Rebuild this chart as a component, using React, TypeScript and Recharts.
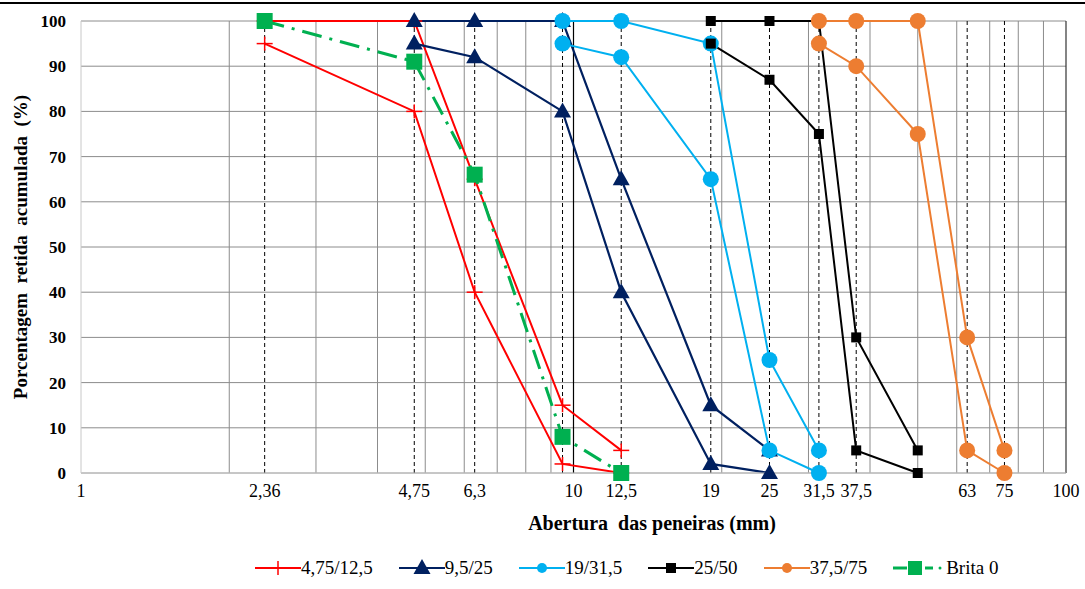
import { LineChart, Line, XAxis, YAxis, CartesianGrid, ReferenceLine } from 'recharts';

// sieve openings (mm) and cumulative retained (%) per grading envelope
const sieves475 = [2.36, 4.75, 6.3, 9.5, 12.5];
const lower475 = [95, 80, 40, 2, 0];
const upper475 = [100, 100, 65, 15, 5];

const sieves95 = [4.75, 6.3, 9.5, 12.5, 19, 25];
const lower95 = [95, 92, 80, 40, 2, 0];
const upper95 = [100, 100, 100, 65, 15, 5];

const sieves19 = [9.5, 12.5, 19, 25, 31.5];
const lower19 = [95, 92, 65, 5, 0];
const upper19 = [100, 100, 95, 25, 5];

const sieves25 = [19, 25, 31.5, 37.5, 50];
const lower25 = [95, 87, 75, 5, 0];
const upper25 = [100, 100, 100, 30, 5];

const sieves375 = [31.5, 37.5, 50, 63, 75];
const lower375 = [95, 90, 75, 5, 0];
const upper375 = [100, 100, 100, 30, 5];

const sievesBrita0 = [2.36, 4.75, 6.3, 9.5, 12.5];
const brita0 = [100, 91, 66, 8, 0];

const xTicks = [1, 2.36, 4.75, 6.3, 10, 12.5, 19, 25, 31.5, 37.5, 63, 75, 100];
const yTicks = [0, 10, 20, 30, 40, 50, 60, 70, 80, 90, 100];
const sieveLines = [2.36, 4.75, 6.3, 9.5, 12.5, 19, 25, 31.5, 37.5, 63, 75];
const minorGrid = [2, 3, 4, 5, 6, 7, 8, 9, 20, 30, 40, 50, 60, 70, 80, 90];

const legendNames = ['4,75/12,5', '9,5/25', '19/31,5', '25/50', '37,5/75', 'Brita 0'];

const RED = '#ff0000';
const NAVY = '#002060';
const CYAN = '#00b0f0';
const BLACK = '#000000';
const ORANGE = '#ed7d31';
const GREEN = '#00b050';
const FONT = '"Liberation Serif", "Times New Roman", serif';

const pts = (xs: number[], ys: number[]) => xs.map((x, i) => ({ x, y: ys[i] }));

type Shape = 'cross' | 'triangle' | 'circle' | 'square' | 'bigsquare';

function marker(shape: Shape, color: string, cx: number, cy: number, key?: any) {
  switch (shape) {
    case 'cross':
      return (
        <g key={key}>
          <line x1={cx - 8} x2={cx + 8} y1={cy} y2={cy} stroke={color} strokeWidth={1.5} />
          <line x1={cx} x2={cx} y1={cy - 7} y2={cy + 7} stroke={color} strokeWidth={1.5} />
        </g>
      );
    case 'triangle':
      return <path key={key} d={`M${cx},${cy - 9} L${cx + 8.5},${cy + 6} L${cx - 8.5},${cy + 6} Z`} fill={color} />;
    case 'circle':
      return <circle key={key} cx={cx} cy={cy} r={8} fill={color} />;
    case 'square':
      return <rect key={key} x={cx - 5} y={cy - 5} width={10} height={10} fill={color} />;
    default:
      return <rect key={key} x={cx - 8} y={cy - 8} width={16} height={16} fill={color} />;
  }
}

const dotFn = (shape: Shape, color: string) => (p: any) => marker(shape, color, p.cx, p.cy, `${shape}-${p.index}`);

function LegendItem({ name, color, shape, dashed }: { name: string; color: string; shape: Shape; dashed?: boolean }) {
  return (
    <div style={{ display: 'flex', alignItems: 'center' }}>
      <svg width={dashed ? 50 : 46} height={20}>
        {dashed ? (
          <>
            <line x1={0} x2={14} y1={10} y2={10} stroke={color} strokeWidth={3} />
            <line x1={32} x2={40} y1={10} y2={10} stroke={color} strokeWidth={3} />
            <circle cx={47} cy={10} r={1.5} fill={color} />
            <rect x={15} y={3} width={14} height={14} fill={color} />
          </>
        ) : (
          <>
            <line x1={0} x2={46} y1={10} y2={10} stroke={color} strokeWidth={2} />
            {shape === 'circle' ? <circle cx={23} cy={10} r={5} fill={color} /> : marker(shape, color, 23, 10)}
          </>
        )}
      </svg>
      <span style={{ fontSize: 19, marginLeft: dashed ? 3 : 0 }}>{name}</span>
    </div>
  );
}

export default function App() {
  const envelopes = [
    { xs: sieves475, lo: lower475, hi: upper475, color: RED, shape: 'cross' as Shape, w: 2 },
    { xs: sieves95, lo: lower95, hi: upper95, color: NAVY, shape: 'triangle' as Shape, w: 2.2 },
    { xs: sieves19, lo: lower19, hi: upper19, color: CYAN, shape: 'circle' as Shape, w: 2 },
    { xs: sieves25, lo: lower25, hi: upper25, color: BLACK, shape: 'square' as Shape, w: 2 },
    { xs: sieves375, lo: lower375, hi: upper375, color: ORANGE, shape: 'circle' as Shape, w: 2 },
  ];

  return (
    <div style={{ position: 'absolute', left: 0, top: 0, width: 1085, height: 589, background: '#fff', fontFamily: FONT }}>
      <div style={{ position: 'absolute', left: 0, top: 2, width: 1085, height: 2, background: '#000' }} />
      <LineChart width={1085} height={589} margin={{ top: 21, right: 19, left: 0, bottom: 86 }}>
        <CartesianGrid vertical={false} stroke="#8c8c8c" strokeWidth={1} />
        {minorGrid.map((v) => (
          <ReferenceLine key={`g${v}`} x={v} stroke="#8c8c8c" strokeWidth={1} />
        ))}
        <ReferenceLine x={1} stroke="#c8c8c8" strokeWidth={1} />
        <ReferenceLine x={10} stroke="#000" strokeWidth={1.2} />
        <ReferenceLine x={100} stroke="#333" strokeWidth={1.2} />
        {sieveLines.map((v) => (
          <ReferenceLine key={`s${v}`} x={v} stroke="#000" strokeWidth={1} strokeDasharray="4 3" />
        ))}
        <XAxis
          dataKey="x"
          type="number"
          scale="log"
          domain={[1, 100]}
          allowDataOverflow
          ticks={xTicks}
          interval={0}
          tickFormatter={(v) => String(v).replace('.', ',')}
          tick={{ fill: '#000', fontSize: 18, fontFamily: FONT }}
          tickLine={false}
          tickSize={0}
          tickMargin={11}
          axisLine={{ stroke: '#c8c8c8' }}
          height={30}
          label={{
            content: () => (
              <text
                x={652}
                y={530}
                textAnchor="middle"
                fontSize={20}
                fontWeight="bold"
                fontFamily={FONT}
                fill="#000"
                style={{ whiteSpace: 'pre' }}
              >
                Abertura  das peneiras (mm)
              </text>
            ),
          }}
        />
        <YAxis
          type="number"
          domain={[0, 100]}
          ticks={yTicks}
          interval={0}
          width={81}
          axisLine={false}
          tickLine={false}
          tickSize={0}
          tickMargin={15}
          tick={{ fill: '#000', fontSize: 17, fontWeight: 'bold', fontFamily: FONT }}
          label={{
            content: () => (
              <text
                x={27}
                y={247}
                transform="rotate(-90 27 247)"
                textAnchor="middle"
                fontSize={19}
                fontWeight="bold"
                fontFamily={FONT}
                fill="#000"
                style={{ whiteSpace: 'pre' }}
              >
                Porcentagem  retida  acumulada  (%)
              </text>
            ),
          }}
        />
        {envelopes.flatMap((e, i) => [
          <Line
            key={`lo${i}`}
            data={pts(e.xs, e.lo)}
            dataKey="y"
            stroke={e.color}
            strokeWidth={e.w}
            dot={dotFn(e.shape, e.color)}
            activeDot={false}
            isAnimationActive={false}
          />,
          <Line
            key={`hi${i}`}
            data={pts(e.xs, e.hi)}
            dataKey="y"
            stroke={e.color}
            strokeWidth={e.w}
            dot={dotFn(e.shape, e.color)}
            activeDot={false}
            isAnimationActive={false}
          />,
        ])}
        <Line
          data={pts(sievesBrita0, brita0)}
          dataKey="y"
          stroke={GREEN}
          strokeWidth={3}
          strokeDasharray="20 8 3 8"
          dot={dotFn('bigsquare', GREEN)}
          activeDot={false}
          isAnimationActive={false}
        />
      </LineChart>
      <div style={{ position: 'absolute', left: 255, top: 557, display: 'flex', gap: 26, alignItems: 'center' }}>
        <LegendItem name={legendNames[0]} color={RED} shape="cross" />
        <LegendItem name={legendNames[1]} color={NAVY} shape="triangle" />
        <LegendItem name={legendNames[2]} color={CYAN} shape="circle" />
        <LegendItem name={legendNames[3]} color={BLACK} shape="square" />
        <LegendItem name={legendNames[4]} color={ORANGE} shape="circle" />
        <LegendItem name={legendNames[5]} color={GREEN} shape="bigsquare" dashed />
      </div>
    </div>
  );
}
